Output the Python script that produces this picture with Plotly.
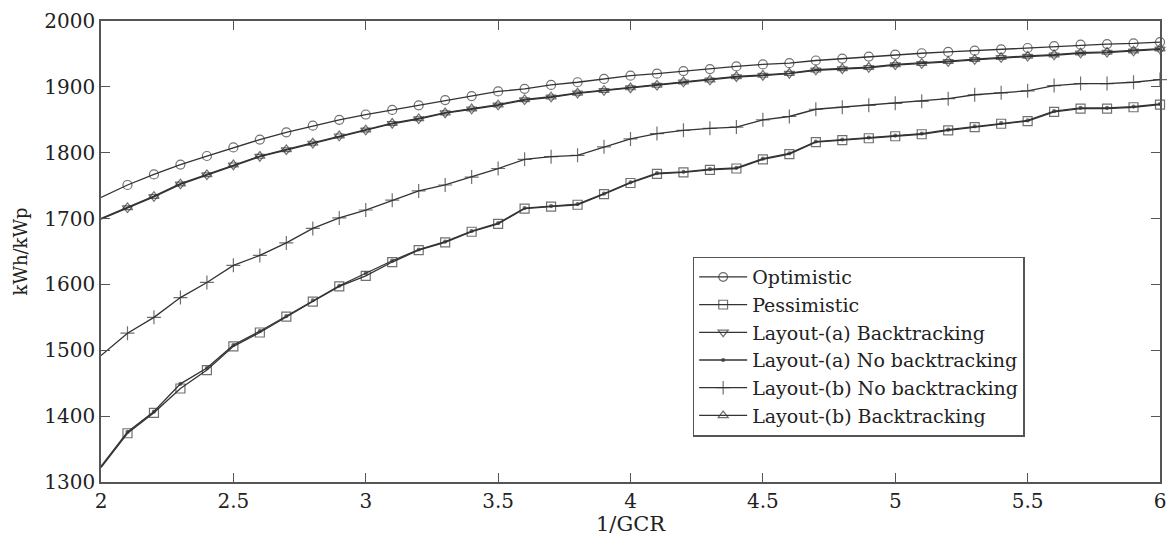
import plotly.graph_objects as go

# 1/GCR values (x axis)
gcr_inv = [round(2.0 + 0.1 * i, 1) for i in range(41)]

optimistic = [1732, 1751, 1767, 1782, 1795, 1808, 1820, 1831, 1841, 1850, 1858,
              1865, 1872, 1880, 1886, 1893, 1897, 1903, 1907, 1912, 1917,
              1920, 1924, 1927, 1931, 1934, 1936, 1940, 1943, 1946, 1949,
              1951, 1953, 1955, 1957, 1959, 1962, 1964, 1965, 1966, 1968]

pessimistic = [1322, 1374, 1405, 1442, 1470, 1506, 1527, 1551, 1574, 1597, 1613,
               1634, 1652, 1664, 1680, 1692, 1715, 1718, 1721, 1737, 1754,
               1768, 1770, 1774, 1776, 1790, 1798, 1816, 1819, 1822, 1825,
               1828, 1834, 1839, 1844, 1848, 1862, 1867, 1867, 1869, 1873]

layout_a_bt = [1699, 1716, 1733, 1752, 1766, 1781, 1794, 1804, 1814, 1825, 1834,
               1844, 1851, 1860, 1866, 1872, 1880, 1884, 1890, 1894, 1898,
               1902, 1907, 1910, 1915, 1917, 1920, 1925, 1927, 1929, 1933,
               1935, 1938, 1941, 1944, 1946, 1948, 1951, 1952, 1954, 1957]

layout_a_nobt = [1324, 1376, 1407, 1449, 1473, 1508, 1529, 1552, 1576, 1598, 1617,
                 1636, 1653, 1665, 1681, 1693, 1716, 1719, 1722, 1738, 1755,
                 1769, 1771, 1775, 1777, 1791, 1799, 1817, 1820, 1823, 1826,
                 1829, 1835, 1840, 1845, 1849, 1863, 1868, 1868, 1870, 1874]

layout_b_nobt = [1492, 1526, 1550, 1580, 1603, 1629, 1644, 1663, 1685, 1701, 1713,
                 1728, 1742, 1751, 1763, 1776, 1790, 1794, 1796, 1809, 1821,
                 1829, 1834, 1837, 1839, 1850, 1855, 1866, 1869, 1872, 1875,
                 1878, 1882, 1888, 1891, 1894, 1902, 1905, 1905, 1907, 1911]

layout_b_bt = [1700, 1717, 1734, 1753, 1767, 1782, 1795, 1805, 1815, 1826, 1835,
               1845, 1852, 1861, 1867, 1873, 1881, 1885, 1891, 1895, 1899,
               1903, 1908, 1911, 1916, 1918, 1921, 1926, 1928, 1930, 1934,
               1936, 1939, 1942, 1945, 1947, 1949, 1952, 1953, 1955, 1958]

series = [
    ("Optimistic", optimistic, "circle-open", 9),
    ("Pessimistic", pessimistic, "square-open", 9),
    ("Layout-(a) Backtracking", layout_a_bt, "triangle-down-open", 9),
    ("Layout-(a) No backtracking", layout_a_nobt, "circle", 3),
    ("Layout-(b) No backtracking", layout_b_nobt, "cross-thin-open", 10),
    ("Layout-(b) Backtracking", layout_b_bt, "triangle-up-open", 9),
]

FONT = "DejaVu Serif"
LINE = "#333333"
fig = go.Figure()
for name, vals, sym, sz in series:
    # the first sample (x = 2) is drawn as line only
    sizes = [0] + [sz] * (len(vals) - 1)
    fig.add_trace(go.Scatter(
        x=gcr_inv, y=vals, name=name, mode="lines+markers",
        line=dict(color=LINE, width=1.3),
        marker=dict(symbol=sym, size=sizes, color=LINE,
                    line=dict(color=LINE, width=1.2)),
        cliponaxis=False,
    ))

axis_common = dict(
    showline=True, linecolor="#555555", linewidth=1.5, mirror="ticks",
    ticks="inside", ticklen=9, tickwidth=1.3, tickcolor="#555555",
    showgrid=False, zeroline=False,
    tickfont=dict(family=FONT, size=20, color="#222222"),
)

fig.update_layout(
    width=1175, height=536,
    margin=dict(l=101, r=9, t=16, b=50),
    paper_bgcolor="white", plot_bgcolor="white",
    font=dict(family=FONT, color="#222222"),
    xaxis=dict(range=[2, 6], tickvals=[2, 2.5, 3, 3.5, 4, 4.5, 5, 5.5, 6],
               ticktext=["2", "2.5", "3", "3.5", "4", "4.5", "5", "5.5", "6"],
               title=dict(text="1/GCR", font=dict(size=21), standoff=0),
               **axis_common),
    yaxis=dict(range=[1300, 2000], dtick=100,
               title=dict(text="kWh/kWp", font=dict(size=18), standoff=12),
               **axis_common),
    legend=dict(x=0.5587, y=0.489, xanchor="left", yanchor="top",
                bgcolor="white", bordercolor="#555555", borderwidth=1.5,
                font=dict(family=FONT, size=19, color="#222222"),
                itemwidth=48, tracegroupgap=0),
    showlegend=True,
)

fig.write_html("out.html")
